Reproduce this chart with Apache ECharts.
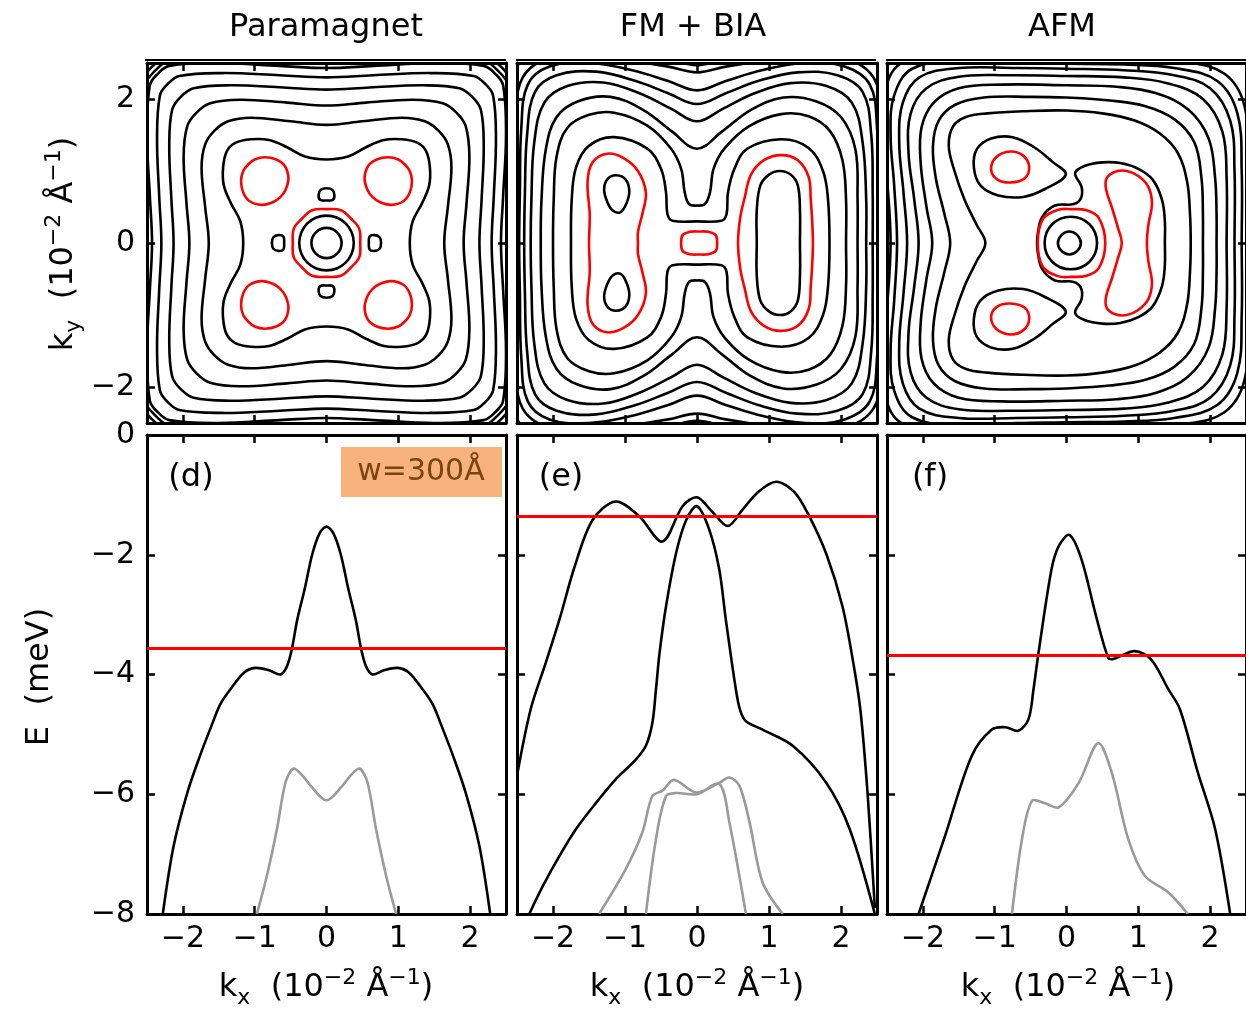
<!DOCTYPE html>
<html>
<head>
<meta charset="utf-8">
<title>Fermi contours and bands</title>
<script src="https://cdn.jsdelivr.net/npm/echarts@6/dist/echarts.min.js"></script>
<style>
  html, body { margin: 0; padding: 0; background: #fff; }
  #chart { width: 1246px; height: 1011px; }
</style>
</head>
<body>
<div id="chart"></div>
<script>
// --- ticks / labels ---
const kTicks = [-2, -1, 0, 1, 2];
const kyTicks = [-2, 0, 2];
const eTicks = [0, -2, -4, -6, -8];
const panelTitles = ["Paramagnet", "FM + BIA", "AFM"];
const panelTags = ["(d)", "(e)", "(f)"];
const fermiLevels = [-3.56, -1.36, -3.68];

// --- Paramagnet contours: first quadrant, from (0,a) to (a,0) ---
const pmOuter1 = [[0,1.64],[0.5,1.69],[1.05,1.74],[1.37,1.69],[1.56,1.56],[1.69,1.37],[1.74,1.05],[1.69,0.5],[1.64,0]];
const pmOuter2 = [[0,1.91],[0.55,1.95],[1.2,1.99],[1.62,1.94],[1.81,1.81],[1.94,1.62],[1.99,1.2],[1.95,0.55],[1.91,0]];
const pmOuter3 = [[0,2.13],[0.6,2.16],[1.35,2.19],[1.85,2.15],[2.03,2.03],[2.15,1.85],[2.19,1.35],[2.16,0.6],[2.13,0]];
const pmOuter4 = [[0,2.30],[0.65,2.33],[1.45,2.36],[2.05,2.32],[2.21,2.21],[2.32,2.05],[2.36,1.45],[2.33,0.65],[2.30,0]];
const pmOuter5 = [[0,2.43],[0.65,2.46],[1.5,2.50],[2.19,2.46],[2.35,2.35],[2.46,2.19],[2.50,1.5],[2.46,0.65],[2.43,0]];
const pmOuter6 = [[0,2.55],[0.6,2.58],[1.4,2.62],[2.13,2.56],[2.39,2.39],[2.56,2.13],[2.62,1.4],[2.58,0.6],[2.55,0]];
const pmOuter7 = [[0,2.62],[0.7,2.64],[1.5,2.66],[2.19,2.60],[2.44,2.44],[2.60,2.19],[2.66,1.5],[2.64,0.7],[2.62,0]];
const pmCross = [[0,1.16],[0.3,1.2],[0.55,1.33],[0.8,1.43],[1.05,1.44],[1.27,1.39],[1.39,1.27],[1.44,1.05],[1.43,0.8],[1.33,0.55],[1.2,0.3],[1.16,0]];
const pmRing1 = [[0,0.21],[0.08,0.195],[0.148,0.148],[0.195,0.08],[0.21,0]];
const pmRing2 = [[0,0.38],[0.15,0.35],[0.27,0.27],[0.35,0.15],[0.38,0]];
const pmRedRing = [[0,0.47],[0.2,0.455],[0.34,0.34],[0.455,0.2],[0.47,0]];
// closed loops
const pmRedBlob = [[0.53,0.90],[0.58,1.07],[0.70,1.16],[0.86,1.19],[1.0,1.16],[1.09,1.09],[1.16,1.0],[1.19,0.86],[1.16,0.70],[1.07,0.58],[0.90,0.53],[0.74,0.57],[0.64,0.64],[0.57,0.74]];
const pmDot = [[0,0.76],[0.08,0.74],[0.11,0.67],[0.09,0.6],[0,0.59],[-0.09,0.6],[-0.11,0.67],[-0.08,0.74]];

// --- FM + BIA contours: upper half, left (ky=0) over the top to right (ky=0) ---
const fmH  = [[-1.75,0],[-1.74,0.6],[-1.68,1.05],[-1.5,1.35],[-1.15,1.47],[-0.69,1.31],[-0.5,1.03],[-0.43,0.7],[-0.41,0.4],[-0.34,0.31],[0,0.30],[0.34,0.31],[0.41,0.4],[0.43,0.7],[0.52,1.03],[0.7,1.31],[1.17,1.44],[1.55,1.32],[1.75,1.0],[1.82,0.6],[1.84,0]];
const fmU  = [[-2.0,0],[-1.99,0.6],[-1.95,1.2],[-1.8,1.6],[-1.5,1.78],[-1.15,1.81],[-0.69,1.63],[-0.36,1.31],[-0.22,1.03],[-0.17,0.7],[-0.11,0.54],[0,0.52],[0.11,0.54],[0.18,0.7],[0.23,1.03],[0.38,1.31],[0.72,1.62],[1.17,1.79],[1.55,1.76],[1.85,1.55],[2.02,1.15],[2.07,0.6],[2.07,0]];
const fmV1 = [[-2.17,0],[-2.16,0.6],[-2.1,1.3],[-1.95,1.75],[-1.65,1.97],[-1.2,2.03],[-0.75,1.85],[-0.35,1.55],[0,1.31],[0.35,1.55],[0.75,1.85],[1.2,2.02],[1.65,1.97],[2.0,1.75],[2.2,1.3],[2.23,0.6],[2.23,0]];
const fmV2 = [[-2.31,0],[-2.30,0.6],[-2.26,1.4],[-2.12,1.95],[-1.8,2.18],[-1.3,2.23],[-0.8,2.08],[-0.35,1.86],[0,1.69],[0.35,1.86],[0.8,2.08],[1.3,2.22],[1.8,2.18],[2.15,1.95],[2.3,1.4],[2.35,0.6],[2.35,0]];
const fmV3 = [[-2.40,0],[-2.39,0.7],[-2.36,1.5],[-2.25,2.1],[-1.95,2.33],[-1.4,2.38],[-0.85,2.25],[-0.4,2.08],[0,1.93],[0.4,2.08],[0.85,2.25],[1.4,2.37],[1.95,2.33],[2.3,2.1],[2.42,1.5],[2.44,0.7],[2.44,0]];
const fmV4 = [[-2.47,0],[-2.46,0.7],[-2.44,1.6],[-2.35,2.2],[-2.05,2.45],[-1.5,2.5],[-0.9,2.4],[-0.4,2.25],[0,2.12],[0.4,2.25],[0.9,2.4],[1.5,2.5],[2.05,2.45],[2.4,2.2],[2.5,1.6],[2.52,0.7],[2.52,0]];
const fmV5 = [[-2.58,0],[-2.57,1.0],[-2.52,1.8],[-2.42,2.3],[-2.1,2.55],[-1.5,2.62],[-0.9,2.53],[-0.4,2.45],[0,2.37],[0.4,2.45],[0.9,2.53],[1.5,2.62],[2.1,2.55],[2.45,2.3],[2.57,1.8],[2.6,1.0],[2.6,0]];
const fmV6 = [[-2.7,0],[-2.68,1.2],[-2.62,2.0],[-2.5,2.45],[-2.2,2.68],[-1.5,2.75],[-0.9,2.64],[-0.4,2.55],[0,2.47],[0.4,2.55],[0.9,2.64],[1.5,2.75],[2.2,2.68],[2.55,2.45],[2.68,2.0],[2.72,1.2],[2.72,0]];
const fmRightOval = [[0.83,0],[0.83,0.45],[0.88,0.8],[1.0,0.95],[1.15,1.0],[1.3,0.95],[1.40,0.8],[1.43,0.45],[1.43,0]];
const fmRedLeft = [[-1.50,0],[-1.49,0.4],[-1.52,0.85],[-1.45,1.12],[-1.25,1.24],[-1.02,1.18],[-0.82,1.0],[-0.71,0.7],[-0.76,0.4],[-0.82,0.15],[-0.82,0]];
const fmRedRight = [[0.57,0],[0.60,0.35],[0.66,0.62],[0.75,0.95],[0.93,1.15],[1.17,1.22],[1.40,1.15],[1.55,0.92],[1.58,0.6],[1.60,0.3],[1.61,0]];
const fmRedMid = [[-0.22,0],[-0.2,0.11],[-0.1,0.155],[0.03,0.16],[0.16,0.155],[0.26,0.11],[0.28,0]];
const fmEgg = [[-1.12,0.94],[-0.99,0.88],[-0.94,0.72],[-0.98,0.55],[-1.06,0.43],[-1.17,0.45],[-1.25,0.58],[-1.29,0.75],[-1.24,0.89]];

// --- AFM contours: upper half ---
const afE1 = [[-1.62,0],[-1.7,0.4],[-1.82,0.9],[-1.86,1.35],[-1.78,1.7],[-1.55,1.92],[-1.15,2.02],[-0.5,2.03],[0,2.02],[0.6,1.98],[1.1,1.9],[1.5,1.72],[1.78,1.4],[1.88,0.9],[1.9,0.4],[1.9,0]];
const afE2 = [[-1.87,0],[-1.95,0.5],[-2.03,1.1],[-2.02,1.6],[-1.85,1.95],[-1.5,2.15],[-0.9,2.2],[0,2.19],[0.7,2.17],[1.25,2.08],[1.7,1.85],[1.98,1.45],[2.07,0.9],[2.09,0.4],[2.09,0]];
const afE3 = [[-2.06,0],[-2.12,0.6],[-2.2,1.25],[-2.17,1.8],[-1.95,2.15],[-1.5,2.31],[-0.8,2.33],[0,2.32],[0.8,2.3],[1.4,2.22],[1.9,2.0],[2.17,1.55],[2.23,0.9],[2.23,0]];
const afE4 = [[-2.22,0],[-2.27,0.7],[-2.33,1.4],[-2.28,1.95],[-2.05,2.3],[-1.5,2.43],[-0.7,2.43],[0,2.42],[0.8,2.4],[1.5,2.33],[2.0,2.15],[2.28,1.7],[2.34,1.0],[2.34,0]];
const afE5 = [[-2.36,0],[-2.4,0.8],[-2.45,1.5],[-2.4,2.05],[-2.15,2.42],[-1.5,2.53],[-0.7,2.5],[0,2.49],[0.8,2.48],[1.5,2.43],[2.1,2.25],[2.38,1.8],[2.44,1.0],[2.44,0]];
const afE6 = [[-2.45,0],[-2.5,0.9],[-2.56,1.6],[-2.52,2.15],[-2.3,2.5],[-1.6,2.65],[-0.7,2.6],[0,2.58],[0.8,2.57],[1.6,2.52],[2.2,2.35],[2.48,1.9],[2.53,1.0],[2.53,0]];
const afD = [[-1.13,0],[-1.25,0.25],[-1.42,0.6],[-1.56,1.0],[-1.64,1.35],[-1.58,1.62],[-1.4,1.75],[-1.1,1.8],[-0.6,1.83],[0,1.84],[0.5,1.8],[0.95,1.7],[1.3,1.52],[1.55,1.25],[1.68,0.85],[1.72,0.4],[1.73,0]];
const afC = [[-0.41,0],[-0.40,0.13],[-0.34,0.36],[-0.16,0.52],[0.1,0.54],[0.2,0.62],[0.21,0.78],[0.12,0.97],[0.25,1.07],[0.5,1.12],[0.75,1.11],[1.0,1.03],[1.2,0.88],[1.33,0.6],[1.37,0.3],[1.37,0]];
const afRing1 = [[-0.12,0],[-0.07,0.11],[0.04,0.16],[0.15,0.11],[0.20,0]];
const afRing2 = [[-0.305,0],[-0.2,0.26],[0.06,0.365],[0.32,0.26],[0.425,0]];
const afRedRing = [[-0.40,0],[-0.33,0.33],[-0.12,0.46],[0.07,0.47],[0.28,0.455],[0.45,0.35],[0.54,0]];
const afRedPeanut = [[0.77,0],[0.72,0.2],[0.63,0.5],[0.55,0.75],[0.56,0.9],[0.68,0.99],[0.84,1.0],[1.0,0.93],[1.14,0.78],[1.19,0.55],[1.14,0.25],[1.12,0]];
const afTear = [[-0.01,0.95],[-0.2,1.13],[-0.45,1.33],[-0.75,1.47],[-1.05,1.45],[-1.25,1.3],[-1.29,1.05],[-1.2,0.8],[-0.95,0.66],[-0.6,0.64],[-0.3,0.75]];
const afRedOval = [[-0.78,1.27],[-0.6,1.21],[-0.52,1.06],[-0.58,0.9],[-0.78,0.84],[-0.96,0.88],[-1.05,1.02],[-0.98,1.19]];

// --- band curves E(kx), [kx, E] ---
const dBlack = [[-2.28,-8],[-2.13,-6.87],[-1.94,-5.98],[-1.76,-5.35],[-1.6,-4.85],[-1.48,-4.5],[-1.34,-4.25],[-1.15,-3.97],[-0.99,-3.89],[-0.8,-3.93],[-0.64,-4.0],[-0.55,-3.86],[-0.48,-3.56],[-0.41,-3.1],[-0.3,-2.55],[-0.2,-2.0],[-0.1,-1.65],[0,-1.53],
                [0.1,-1.65],[0.2,-2.0],[0.3,-2.55],[0.41,-3.1],[0.48,-3.56],[0.55,-3.86],[0.64,-4.0],[0.8,-3.93],[0.99,-3.89],[1.15,-3.97],[1.34,-4.25],[1.48,-4.5],[1.6,-4.85],[1.76,-5.35],[1.94,-5.98],[2.13,-6.87],[2.28,-8]];
const dGray = [[-0.97,-8],[-0.83,-7.36],[-0.69,-6.58],[-0.57,-5.8],[-0.46,-5.57],[-0.34,-5.68],[-0.22,-5.86],[0,-6.1],[0.22,-5.86],[0.34,-5.68],[0.46,-5.57],[0.57,-5.8],[0.69,-6.58],[0.83,-7.36],[0.97,-8]];
const eBlackUpper = [[-2.5,-5.69],[-2.31,-4.58],[-2.1,-3.8],[-1.91,-3.08],[-1.7,-2.2],[-1.45,-1.42],[-1.13,-1.11],[-0.8,-1.36],[-0.48,-1.78],[-0.2,-1.19],[0,-1.04],[0.21,-1.28],[0.43,-1.52],[0.63,-1.25],[0.85,-0.95],[1.1,-0.78],[1.35,-0.95],[1.56,-1.36],[1.8,-2.0],[2.02,-2.86],[2.17,-3.8],[2.27,-4.6],[2.37,-6.0],[2.47,-7.9]];
const eBlackLower = [[-2.33,-8],[-2.14,-7.53],[-1.91,-7.03],[-1.68,-6.58],[-1.4,-6.14],[-1.13,-5.75],[-0.85,-5.42],[-0.71,-5.19],[-0.62,-4.81],[-0.57,-4.25],[-0.52,-3.64],[-0.43,-2.86],[-0.29,-1.97],[-0.15,-1.42],[0,-1.19],[0.17,-1.58],[0.31,-2.25],[0.40,-3.08],[0.54,-4.25],[0.6,-4.6],[0.68,-4.78],[0.91,-4.92],[1.33,-5.19],[1.79,-5.8],[2.12,-6.58],[2.47,-8]];
const eGrayOuter = [[-1.36,-8],[-0.99,-7.25],[-0.76,-6.64],[-0.62,-6.03],[-0.48,-5.94],[-0.32,-5.76],[-0.01,-5.97],[0.31,-5.81],[0.45,-5.72],[0.59,-5.86],[0.73,-6.47],[0.91,-7.47],[1.19,-8]];
const eGrayInner = [[-0.71,-8],[-0.57,-6.75],[-0.43,-6.03],[-0.29,-5.98],[0,-6.0],[0.31,-5.83],[0.45,-6.47],[0.68,-8]];
const fBlack = [[-2.06,-8],[-1.69,-6.69],[-1.32,-5.36],[-1.04,-4.92],[-0.85,-4.88],[-0.67,-4.94],[-0.53,-4.75],[-0.46,-4.25],[-0.39,-3.64],[-0.21,-2.25],[-0.11,-1.86],[0.04,-1.67],[0.21,-2.08],[0.40,-2.97],[0.58,-3.72],[0.65,-3.74],[0.95,-3.61],[1.18,-3.75],[1.42,-4.25],[1.58,-4.58],[1.83,-5.64],[2.07,-6.58],[2.28,-8]];
const fGray = [[-0.76,-8],[-0.62,-6.75],[-0.48,-6.11],[-0.3,-6.15],[-0.11,-6.22],[0.17,-5.81],[0.44,-5.15],[0.63,-5.64],[0.86,-6.75],[1.09,-7.36],[1.42,-7.64],[1.69,-8]];

// ---------------------------------------------------------------
const FONT = "DejaVu Sans";
const BLACK = "#000";
const RED = "#ff0000";
const GRAY = "#9a9a9a";

// symmetry helpers (loops are returned without repeating the first point)
const flipX = p => p.map(([x, y]) => [-x, y]);
const flipY = p => p.map(([x, y]) => [x, -y]);
const swapXY = p => p.map(([x, y]) => [y, x]);
const fromHalf = h => h.concat(h.slice(1, -1).reverse().map(([x, y]) => [x, -y]));
const fromQuad = q => {
  const r = q.slice().reverse();
  return q.concat(
    r.slice(1).map(([x, y]) => [x, -y]),
    q.slice(1).map(([x, y]) => [-x, -y]),
    r.slice(1, -1).map(([x, y]) => [-x, y])
  );
};
const minus = v => String(v).replace("-", "\u2212");

// curves per panel
const panels = [[], [], [], [], [], []];
const add = (g, pts, color, closed) => panels[g].push({ pts, color, closed });

// panel a: paramagnet
[pmOuter1, pmOuter2, pmOuter3, pmOuter4, pmOuter5, pmOuter6, pmOuter7, pmCross, pmRing1, pmRing2]
  .forEach(q => add(0, fromQuad(q), BLACK, true));
[pmDot, flipY(pmDot), swapXY(pmDot), flipX(swapXY(pmDot))].forEach(p => add(0, p, BLACK, true));
add(0, fromQuad(pmRedRing), RED, true);
[pmRedBlob, flipX(pmRedBlob), flipY(pmRedBlob), flipX(flipY(pmRedBlob))].forEach(p => add(0, p, RED, true));

// panel b: FM + BIA
[fmH, fmU, fmV1, fmV2, fmV3, fmV4, fmV5, fmV6, fmRightOval].forEach(h => add(1, fromHalf(h), BLACK, true));
[fmEgg, flipY(fmEgg)].forEach(p => add(1, p, BLACK, true));
[fmRedLeft, fmRedRight, fmRedMid].forEach(h => add(1, fromHalf(h), RED, true));

// panel c: AFM
[afE1, afE2, afE3, afE4, afE5, afE6, afD, afC, afRing1, afRing2].forEach(h => add(2, fromHalf(h), BLACK, true));
[afTear, flipY(afTear)].forEach(p => add(2, p, BLACK, true));
[afRedRing, afRedPeanut].forEach(h => add(2, fromHalf(h), RED, true));
[afRedOval, flipY(afRedOval)].forEach(p => add(2, p, RED, true));

// bands
add(3, dBlack, BLACK, false);
add(3, dGray, GRAY, false);
add(4, eBlackUpper, BLACK, false);
add(4, eBlackLower, BLACK, false);
add(4, eGrayOuter, GRAY, false);
add(4, eGrayInner, GRAY, false);
add(5, fBlack, BLACK, false);
add(5, fGray, GRAY, false);

const series = panels.map((list, g) => ({
  type: "custom", xAxisIndex: 2 * g, yAxisIndex: 2 * g,
  silent: true, animation: false, z: 3,
  data: list.map((c, i) => [i, 0]),
  renderItem: (params, api) => {
    const c = list[params.dataIndex];
    const cs = params.coordSys;
    return {
      type: c.closed ? "polygon" : "polyline",
      z2: c.color === RED ? 2 : 1,
      shape: { points: c.pts.map(p => api.coord(p)), smooth: c.closed ? 0.38 : 0.32 },
      style: { stroke: c.color, fill: "none", lineWidth: 2.6, lineJoin: "round" },
      clipPath: { type: "rect", shape: { x: cs.x, y: cs.y, width: cs.width, height: cs.height } }
    };
  }
}));

// Fermi levels
fermiLevels.forEach((lvl, i) => {
  series.push({
    type: "line", xAxisIndex: 2 * (i + 3), yAxisIndex: 2 * (i + 3), data: [], z: 5,
    markLine: {
      silent: true, symbol: "none", animation: false,
      label: { show: false },
      lineStyle: { color: RED, width: 3, type: "solid" },
      data: [{ yAxis: lvl }]
    }
  });
});

// grids and axes
const lefts = [147, 517, 887];
const widths = [359, 360, 360];
const grids = [], xAxes = [], yAxes = [];
for (let g = 0; g < 6; g++) {
  const row = g < 3 ? 0 : 1, col = g % 3;
  grids.push({ left: lefts[col], width: widths[col], top: row ? 435 : 63, height: row ? 479 : 360 });
  const yMin = row ? -8 : -2.5, yMax = row ? 0 : 2.5;
  const yTicks = row ? eTicks : kyTicks;
  ["bottom", "top"].forEach((pos, j) => {
    xAxes.push({
      type: "value", gridIndex: g, position: pos, min: -2.5, max: 2.5,
      axisLine: { show: true, onZero: false, lineStyle: { color: BLACK, width: 3 } },
      axisTick: { show: true, inside: true, length: 8, customValues: kTicks, lineStyle: { color: BLACK, width: 2.5 } },
      axisLabel: { show: row === 1 && j === 0, customValues: kTicks, formatter: minus,
                   color: BLACK, fontSize: 30, fontFamily: FONT, margin: 10 },
      splitLine: { show: false }
    });
  });
  ["left", "right"].forEach((pos, j) => {
    yAxes.push({
      type: "value", gridIndex: g, position: pos, min: yMin, max: yMax,
      axisLine: { show: true, onZero: false, lineStyle: { color: BLACK, width: 3 } },
      axisTick: { show: true, inside: true, length: 8, customValues: yTicks, lineStyle: { color: BLACK, width: 2.5 } },
      axisLabel: { show: col === 0 && j === 0, customValues: yTicks, formatter: minus,
                   color: BLACK, fontSize: 30, fontFamily: FONT, margin: 12 },
      splitLine: { show: false }
    });
  });
}

// texts
const rich = {
  m: { fontSize: 32, fontFamily: FONT, lineHeight: 42, color: BLACK },
  sub: { fontSize: 22, fontFamily: FONT, lineHeight: 24, verticalAlign: "bottom", color: BLACK },
  sup: { fontSize: 22, fontFamily: FONT, lineHeight: 22, verticalAlign: "top", color: BLACK }
};
const kLabel = v => `{m|k}{sub|${v}}{m|  (10}{sup|\u22122}{m| \u00c5}{sup|\u22121}{m|)}`;
function txt(x, y, text, extra) {
  return Object.assign({
    type: "text", x: x, y: y, silent: true, z: 10,
    style: { text: text, fill: BLACK, font: `32px "${FONT}"`, textAlign: "center", textVerticalAlign: "middle", rich: rich }
  }, extra || {});
}
const graphic = [];
panelTitles.forEach((t, i) => graphic.push(txt([326, 693, 1062][i], 28, t, null)));
panelTags.forEach((t, i) => graphic.push(txt([191, 561, 930][i], 478, t, null)));
[326, 697, 1068].forEach(x => graphic.push(txt(x, 988, kLabel("x"))));
graphic.push(txt(64, 244, kLabel("y"), { rotation: Math.PI / 2 }));
graphic.push(txt(40, 677, "{m|E  (meV)}", { rotation: Math.PI / 2 }));
// thin double edge above the top row
[[145, 506], [516, 876], [886, 1246]].forEach(([a, b]) => graphic.push({
  type: "line", silent: true, z: 10, shape: { x1: a, y1: 60, x2: b, y2: 60 },
  style: { stroke: BLACK, lineWidth: 2 }
}));
graphic.push({ type: "rect", silent: true, z: 9, shape: { x: 341, y: 447, width: 161, height: 50 }, style: { fill: "#f7b27d" } });
graphic.push({
  type: "text", x: 421, y: 472, silent: true, z: 10,
  style: { text: "w=300\u00c5", fill: "#7a4510", font: `30px "${FONT}"`, textAlign: "center", textVerticalAlign: "middle" }
});

const chart = echarts.init(document.getElementById("chart"), null, { renderer: "canvas" });
chart.setOption({
  backgroundColor: "#fff",
  animation: false,
  grid: grids,
  xAxis: xAxes,
  yAxis: yAxes,
  series: series,
  graphic: graphic
});
</script>
</body>
</html>
